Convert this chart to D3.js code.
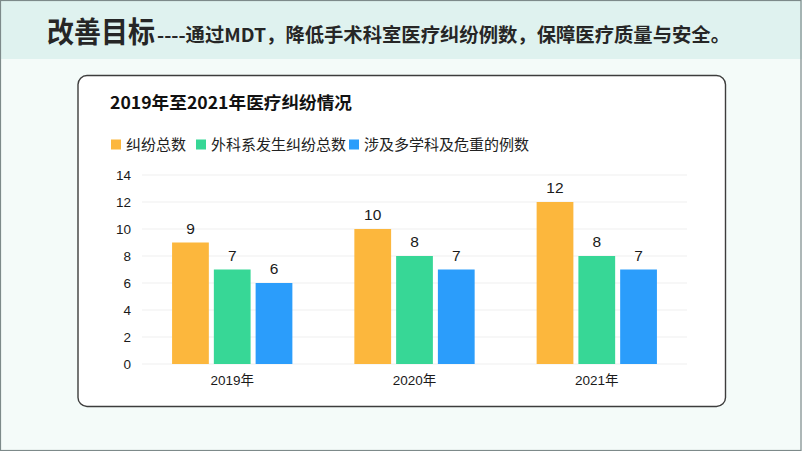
<!DOCTYPE html>
<html><head><meta charset="utf-8">
<script src="https://cdn.jsdelivr.net/npm/d3@7"></script>
<style>html,body{margin:0;padding:0;background:#fff}svg{display:block}</style>
</head><body>
<svg id="c" width="802" height="451"></svg>
<script>
const categories = ["2019年", "2020年", "2021年"];
const seriesNames = ["纠纷总数", "外科系发生纠纷总数", "涉及多学科及危重的例数"];
const totalDisputes = [9, 10, 12];
const surgicalDisputes = [7, 8, 8];
const multiDisciplinary = [6, 7, 7];
const yTicks = [0, 2, 4, 6, 8, 10, 12, 14];
const colors = ["#FCB73D", "#37D796", "#2B9DFB"];
const seriesValues = [totalDisputes, surgicalDisputes, multiDisciplinary];

const font = "'Noto Sans CJK SC', 'Noto Sans', sans-serif";
const numFont = "'Liberation Sans', 'Noto Sans CJK SC', sans-serif";
const svg = d3.select("#c");

// backgrounds
svg.append("rect").attr("x",0).attr("y",0).attr("width",802).attr("height",451).attr("fill","#f4fbf9");
svg.append("rect").attr("x",0).attr("y",0).attr("width",802).attr("height",59).attr("fill","#dff2ef");
svg.append("rect").attr("x",0.5).attr("y",0.5).attr("width",800.5).attr("height",450).attr("fill","none").attr("stroke","#7d8a8a").attr("stroke-width",1.2);

// header
svg.append("text").attr("x",47).attr("y",43).attr("font-family",font).attr("font-weight","bold")
  .attr("font-size",29).attr("fill","#262626").attr("textLength",108).attr("lengthAdjust","spacingAndGlyphs").text("改善目标");
svg.append("text").attr("x",157).attr("y",42).attr("font-family",font).attr("font-weight","bold")
  .attr("font-size",19).attr("fill","#262626").attr("textLength",573).attr("lengthAdjust","spacingAndGlyphs")
  .text("----通过MDT，降低手术科室医疗纠纷例数，保障医疗质量与安全。");

// panel
svg.append("rect").attr("x",78).attr("y",75.5).attr("width",647.5).attr("height",331).attr("rx",9)
  .attr("fill","#ffffff").attr("stroke","#3d3d3d").attr("stroke-width",1.4);

svg.append("text").attr("x",110).attr("y",109).attr("font-family",font).attr("font-weight","bold")
  .attr("font-size",17).attr("fill","#111").attr("textLength",242).attr("lengthAdjust","spacingAndGlyphs")
  .text("2019年至2021年医疗纠纷情况");

// legend
const legendX = [111, 196, 349];
const lg = svg.append("g");
seriesNames.forEach((n,i)=>{
  lg.append("rect").attr("x",legendX[i]).attr("y",139.5).attr("width",10).attr("height",10).attr("fill",colors[i]);
  lg.append("text").attr("x",legendX[i]+15).attr("y",149.5).attr("font-family",font).attr("font-size",15)
    .attr("fill","#222").text(n);
});

// scales
const plotL = 142, plotR = 687;
const y = d3.scaleLinear().domain([0,14]).range([364,175]);
const x0 = d3.scaleBand().domain(categories).range([plotL,plotR]).paddingInner(0.34).paddingOuter(0.165);
const x1 = d3.scaleBand().domain(d3.range(seriesNames.length)).range([0,x0.bandwidth()]).paddingInner(0.12);

// grid
svg.append("g").selectAll("line").data(yTicks).join("line")
  .attr("x1",plotL).attr("x2",plotR).attr("y1",d=>y(d)).attr("y2",d=>y(d))
  .attr("stroke","#efefef").attr("stroke-width",1);

// y axis
const yAxis = svg.append("g").attr("transform",`translate(${plotL},0)`)
  .call(d3.axisLeft(y).tickValues(yTicks).tickSize(0).tickPadding(11));
yAxis.select(".domain").remove();
yAxis.selectAll("text").attr("font-family",numFont).attr("font-size",13.5).attr("fill","#1a1a1a");

// x axis
const xAxis = svg.append("g").attr("transform",`translate(0,${y(0)})`)
  .call(d3.axisBottom(x0).tickSize(0).tickPadding(11));
xAxis.select(".domain").remove();
xAxis.selectAll("text").attr("font-family",numFont).attr("font-size",13.5).attr("fill","#1a1a1a");

// bars
const groups = svg.append("g").selectAll("g").data(categories).join("g")
  .attr("transform",d=>`translate(${x0(d)},0)`);
groups.each(function(cat,ci){
  const g = d3.select(this);
  seriesValues.forEach((vals,si)=>{
    g.append("rect").attr("x",x1(si)).attr("y",y(vals[ci])).attr("width",x1.bandwidth())
      .attr("height",y(0)-y(vals[ci])).attr("fill",colors[si]);
    g.append("text").attr("x",x1(si)+x1.bandwidth()/2).attr("y",y(vals[ci])-9)
      .attr("text-anchor","middle").attr("font-family",numFont).attr("font-size",15.5).attr("fill","#1a1a1a")
      .text(vals[ci]);
  });
});
</script>
</body></html>
